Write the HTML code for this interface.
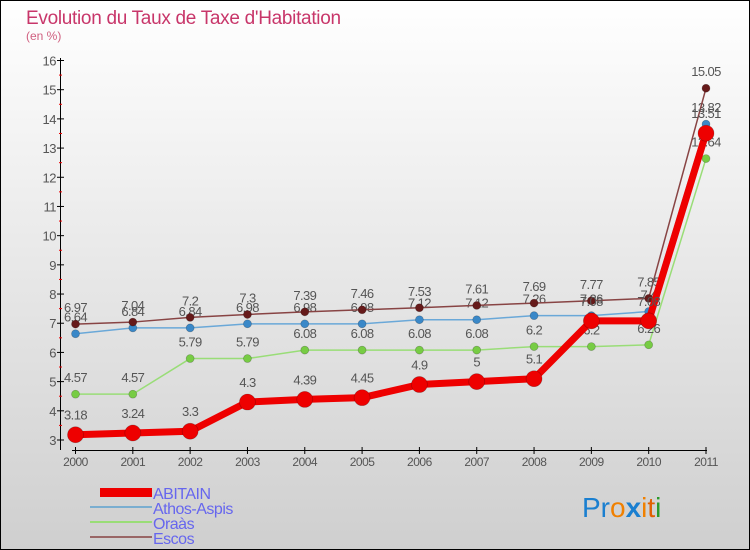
<!DOCTYPE html>
<html><head><meta charset="utf-8"><style>
body{margin:0}
#wrap{width:750px;height:550px;position:relative;overflow:hidden;font-family:"Liberation Sans",sans-serif}
</style></head><body>
<div id="wrap">
<svg id="chart" width="750" height="550">
<defs><linearGradient id="bg" x1="0" y1="0" x2="0" y2="1"><stop offset="0" stop-color="#ffffff"/><stop offset="1" stop-color="#cfcfcf"/></linearGradient></defs>
<rect x="0.5" y="0.5" width="749" height="549" fill="url(#bg)" stroke="#000"/>
<text x="26" y="24" font-size="19" fill="#c8366a" letter-spacing="-0.3">Evolution du Taux de Taxe d'Habitation</text>
<text x="26" y="40" font-size="12" fill="#d06080">(en %)</text>
<g id="axes"></g>
<g id="series"></g>
<g id="legend" font-size="16" fill="#6666ee" letter-spacing="-0.5">
<rect x="100" y="488" width="52" height="9" fill="#e00"/>
<text x="153" y="499">ABITAIN</text>
<rect x="90" y="506" width="62" height="2" fill="#7aaed0"/>
<text x="153" y="514">Athos-Aspis</text>
<rect x="90" y="521" width="62" height="2" fill="#99dd77"/>
<text x="153" y="529">Oraàs</text>
<rect x="90" y="536" width="62" height="2" fill="#996666"/>
<text x="153" y="544">Escos</text>
</g>
<text x="582" y="517" font-size="28"><tspan fill="#1a7fd0">Pr</tspan><tspan fill="#f08000">o</tspan><tspan fill="#1a7fd0" font-weight="bold">x</tspan><tspan fill="#f08000">i</tspan><tspan fill="#e06000">t</tspan><tspan fill="#2a9a2a">i</tspan></text>
</svg>
</div>
<script>
const years=["2000","2001","2002","2003","2004","2005","2006","2007","2008","2009","2010","2011"];
const yTicks=[3,4,5,6,7,8,9,10,11,12,13,14,15,16];
const abitain=[3.18,3.24,3.3,4.3,4.39,4.45,4.9,5,5.1,7.08,7.08,13.51];
const athos=[6.64,6.84,6.84,6.98,6.98,6.98,7.12,7.12,7.26,7.26,7.4,13.82];
const oraas=[4.57,4.57,5.79,5.79,6.08,6.08,6.08,6.08,6.2,6.2,6.26,12.64];
const escos=[6.97,7.04,7.2,7.3,7.39,7.46,7.53,7.61,7.69,7.77,7.85,15.05];
const NS="http://www.w3.org/2000/svg";
function xs(i){return 75.5+i*(706-75.5)/11;}
function ys(v){return 440-(v-3)*(440-60.5)/13;}
function mk(tag,attrs,parent){const e=document.createElementNS(NS,tag);for(const k in attrs)e.setAttribute(k,attrs[k]);parent.appendChild(e);return e;}
const ax=document.getElementById('axes');
let l=mk('line',{x1:60.5,y1:58,x2:60.5,y2:450,stroke:'#000'},ax);


l=mk('line',{x1:72,y1:450.5,x2:707,y2:450.5,stroke:'#000'},ax);


yTicks.forEach((v,i)=>{
  const y=ys(v);
  mk('line',{x1:57,y1:y,x2:64,y2:y,stroke:'#000'},ax);
  if(i<yTicks.length-1) mk('line',{x1:59,y1:y-14.6,x2:62,y2:y-14.6,stroke:'#e00'},ax);
  const t=mk('text',{x:56,y:y+5,'font-size':13,'text-anchor':'end',fill:'#555','letter-spacing':'-0.5'},ax);
  t.textContent=v;
  
  
});
years.forEach((yr,i)=>{
  const x=xs(i);
  mk('line',{x1:x,y1:447,x2:x,y2:454,stroke:'#000'},ax);
  const t=mk('text',{x:x,y:466,'font-size':12,'text-anchor':'middle',fill:'#555','letter-spacing':'-0.5'},ax);
  t.textContent=yr;
  
  
});
const sg=document.getElementById('series');
function draw(data,name,color,w,r,dot,labelDy){
  const g=mk('g',{},sg);
  
  
  const p=mk('polyline',{points:data.map((v,i)=>xs(i)+','+ys(v)).join(' '),fill:'none',stroke:color,'stroke-width':w,'stroke-linejoin':'round'},g);
  
  
  data.forEach((v,i)=>{
    const c=mk('circle',{cx:xs(i),cy:ys(v),r:r,fill:dot,stroke:'rgba(0,0,0,0.25)','stroke-width':0.7},g);
    
    
    const t=mk('text',{x:xs(i),y:ys(v)+labelDy,'font-size':13,'text-anchor':'middle',fill:'#555','letter-spacing':'-0.6'},g);
    t.textContent=v;
    
    
  });
}
draw(oraas,'oraas','#99dd77',1.5,4,'#77cc44',-12);
draw(athos,'athos','#6aa8d8',1.5,4,'#3a88c8',-12);
draw(escos,'escos','#884444',1.5,4,'#661a1a',-12);
draw(abitain,'abitain','#ee0000',7,8,'#ee0000',-15);
</script>
</body></html>
